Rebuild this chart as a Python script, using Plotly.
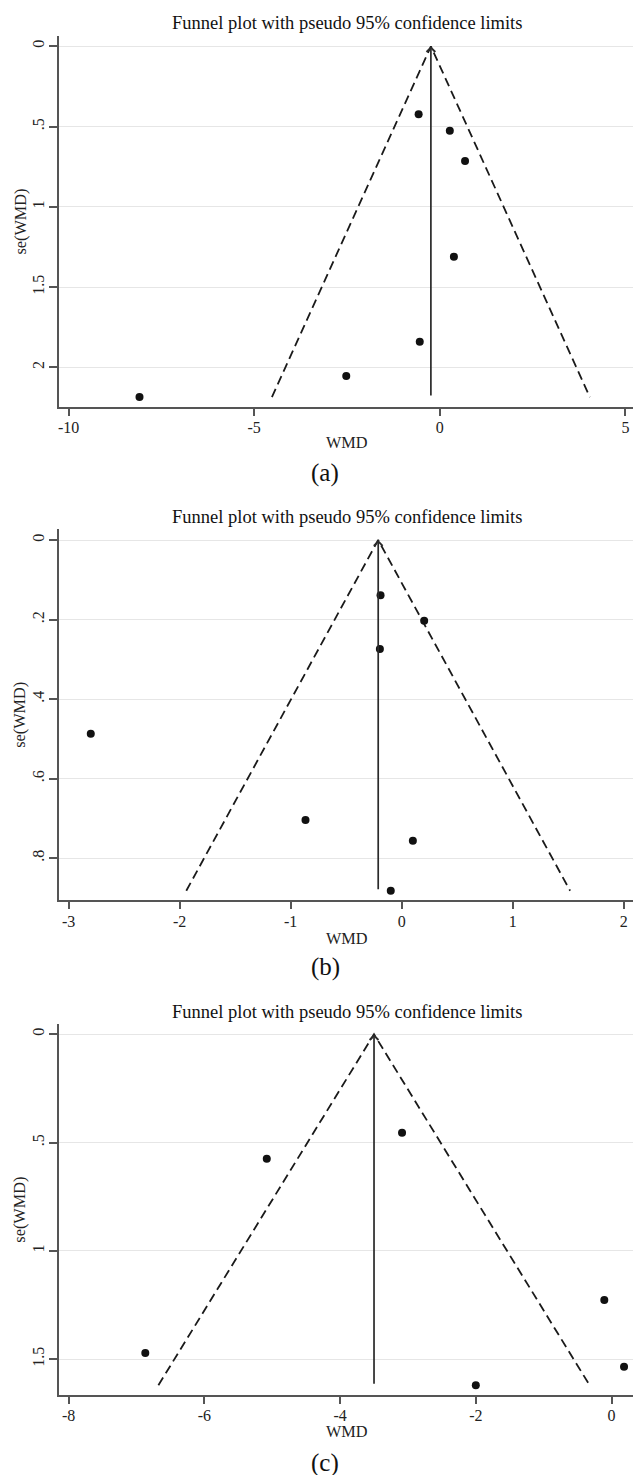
import plotly.graph_objects as go

# ---- data ----
a_wmd = [-0.57, 0.27, 0.68, 0.38, -0.54, -2.52, -8.09]
a_se = [0.424, 0.526, 0.715, 1.311, 1.840, 2.054, 2.185]
a_pooled = -0.24

b_wmd = [-0.19, 0.203, -0.196, -2.80, -0.866, 0.101, -0.098]
b_se = [0.139, 0.203, 0.274, 0.487, 0.704, 0.756, 0.882]
b_pooled = -0.211

c_wmd = [-3.087, -5.08, -0.107, -6.87, 0.184, -2.0]
c_se = [0.455, 0.575, 1.227, 1.472, 1.535, 1.621]
c_pooled = -3.50

a_xticks = [-10, -5, 0, 5]
a_xlabels = ["-10", "-5", "0", "5"]
a_yticks = [0, 0.5, 1, 1.5, 2]
a_ylabels = ["0", ".5", "1", "1.5", "2"]

b_xticks = [-3, -2, -1, 0, 1, 2]
b_xlabels = ["-3", "-2", "-1", "0", "1", "2"]
b_yticks = [0, 0.2, 0.4, 0.6, 0.8]
b_ylabels = ["0", ".2", ".4", ".6", ".8"]

c_xticks = [-8, -6, -4, -2, 0]
c_xlabels = ["-8", "-6", "-4", "-2", "0"]
c_yticks = [0, 0.5, 1, 1.5]
c_ylabels = ["0", ".5", "1", "1.5"]

panel_labels = ["(a)", "(b)", "(c)"]
title_text = "Funnel plot with pseudo 95% confidence limits"
x_title = "WMD"
y_title = "se(WMD)"

W, H = 633, 1475
FONT = "Liberation Serif, Times New Roman, serif"

panels = [
    dict(wmd=a_wmd, se=a_se, pooled=a_pooled, xt=a_xticks, xl=a_xlabels, yt=a_yticks, yl=a_ylabels,
         xr=[-10.267, 5.205], yr=[2.247, -0.064], dom_px=(36, 407), title_y=23, wmd_y=443, lab_y=473),
    dict(wmd=b_wmd, se=b_se, pooled=b_pooled, xt=b_xticks, xl=b_xlabels, yt=b_yticks, yl=b_ylabels,
         xr=[-3.089, 2.084], yr=[0.906, -0.027], dom_px=(529.3, 900.3), title_y=516.7, wmd_y=938.3, lab_y=966.7),
    dict(wmd=c_wmd, se=c_se, pooled=c_pooled, xt=c_xticks, xl=c_xlabels, yt=c_yticks, yl=c_ylabels,
         xr=[-8.146, 0.316], yr=[1.666, -0.046], dom_px=(1024.3, 1395), title_y=1011.7, wmd_y=1431, lab_y=1463),
]

def py(p):
    return 1 - p / H

fig = go.Figure()
annotations = []
layout = {}
x0 = 58.7 / W

for i, p in enumerate(panels):
    n = "" if i == 0 else str(i + 1)
    xa, ya = "x" + n, "y" + n
    semax = max(p["se"])
    # funnel (pseudo 95% limits)
    fig.add_trace(go.Scatter(
        x=[p["pooled"] - 1.96 * semax, p["pooled"], p["pooled"] + 1.96 * semax],
        y=[semax, 0, semax], mode="lines", xaxis=xa, yaxis=ya, cliponaxis=False,
        line=dict(color="#1a1a1a", width=1.8, dash="9px,5px"), showlegend=False, hoverinfo="skip"))
    # studies
    fig.add_trace(go.Scatter(
        x=p["wmd"], y=p["se"], mode="markers", xaxis=xa, yaxis=ya, cliponaxis=False,
        marker=dict(color="#111111", size=8), showlegend=False))
    # pooled line with arrow
    annotations.append(dict(
        x=p["pooled"], y=0, ax=p["pooled"], ay=semax, xref=xa, yref=ya, axref=xa, ayref=ya,
        showarrow=True, arrowhead=4, arrowsize=1.0, arrowwidth=1.7, arrowcolor="#2a2a2a",
        standoff=0, startstandoff=0, text=""))
    d0, d1 = p["dom_px"]
    layout["xaxis" + n] = dict(
        domain=[x0, 1], range=p["xr"], anchor=ya, tickvals=p["xt"], ticktext=p["xl"],
        showgrid=False, zeroline=False, showline=True, linecolor="#555555", linewidth=2,
        ticks="outside", ticklen=7, tickwidth=1.5, tickcolor="#555555", ticklabelstandoff=-2,
        tickfont=dict(family=FONT, size=16, color="#222222"))
    layout["yaxis" + n] = dict(
        domain=[py(d1), py(d0)], range=p["yr"], anchor=xa, tickvals=p["yt"], ticktext=p["yl"],
        showgrid=True, gridcolor="#e6e6e6", gridwidth=1.2, zeroline=False,
        showline=True, linecolor="#555555", linewidth=2,
        ticks="outside", ticklen=8, tickwidth=1.5, tickcolor="#555555", tickangle=-90,
        ticklabelstandoff=-2,
        tickfont=dict(family=FONT, size=16, color="#222222"))
    annotations.append(dict(text=title_text, x=346.6 / W, y=py(p["title_y"]), xref="paper", yref="paper",
                            showarrow=False, xanchor="center", yanchor="middle",
                            font=dict(family=FONT, size=18.5, color="#111111")))
    annotations.append(dict(text=x_title, x=347.2 / W, y=py(p["wmd_y"]), xref="paper", yref="paper",
                            showarrow=False, xanchor="center", yanchor="middle",
                            font=dict(family=FONT, size=16.3, color="#222222")))
    annotations.append(dict(text=y_title, x=20 / W, y=py((d0 + d1) / 2), xref="paper", yref="paper",
                            showarrow=False, xanchor="center", yanchor="middle", textangle=-90,
                            font=dict(family=FONT, size=16.3, color="#222222")))
    annotations.append(dict(text=panel_labels[i], x=325 / W, y=py(p["lab_y"]), xref="paper", yref="paper",
                            showarrow=False, xanchor="center", yanchor="middle",
                            font=dict(family=FONT, size=25, color="#111111")))

fig.update_layout(
    width=W, height=H, margin=dict(l=0, r=0, t=0, b=0),
    paper_bgcolor="white", plot_bgcolor="white",
    annotations=annotations, **layout)

fig.write_html("out.html")
